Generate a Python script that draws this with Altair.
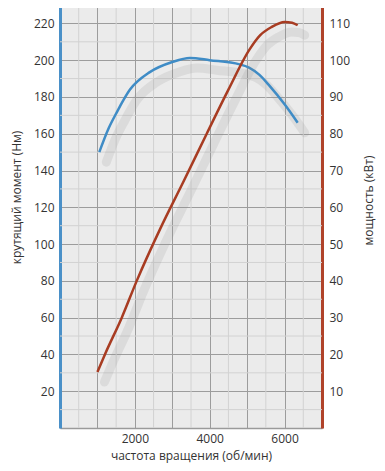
import altair as alt
import pandas as pd

# torque curve (Nm) vs rpm
rpm_t = [1050, 1300, 1500, 1870, 2400, 3000, 3470, 4000, 4800, 5050, 5330, 5600, 6000, 6350]
torque = [150, 163, 171, 184, 193.5, 199, 201.2, 200, 197.7, 196, 192, 186, 176, 166]

# power curve (kW) vs rpm
rpm_p = [1000, 1200, 1650, 2050, 2670, 3300, 3920, 4500, 5070, 5350, 5650, 6000, 6200, 6350]
power = [15.2, 20, 30, 40, 54, 67, 80, 92, 103, 106.8, 109, 110.4, 110.2, 109.5]

torque_ticks = [20, 40, 60, 80, 100, 120, 140, 160, 180, 200, 220]
power_ticks = [10, 20, 30, 40, 50, 60, 70, 80, 90, 100, 110]
rpm_ticks = [1000, 2000, 3000, 4000, 5000, 6000]
minor_h = [10, 30, 50, 70, 90, 110, 130, 150, 170, 190, 210, 230]
minor_v = [500, 1500, 2500, 3500, 4500, 5500, 6500]

FONT = "Open Sans"
BLUE = "#3f8cc6"
RED = "#a83c22"

df_t = pd.DataFrame({"rpm": rpm_t, "torque": torque})
df_p = pd.DataFrame({"rpm": rpm_p, "power": power})
df_mh = pd.DataFrame({"torque": minor_h})
df_mv = pd.DataFrame({"rpm": minor_v})

xscale = alt.Scale(domain=[0, 7000], nice=False, zero=False)
yscale_t = alt.Scale(domain=[0, 230], nice=False)
yscale_p = alt.Scale(domain=[0, 115], nice=False)

x_axis = alt.Axis(
    values=rpm_ticks, labelExpr="datum.value % 2000 == 0 ? datum.label : ''",
    format="d", grid=True, gridColor="#9c9c9c", gridWidth=1, ticks=False,
    domainColor="#9a9a9a", domainWidth=1.5, labelPadding=5,
    title="частота вращения (об/мин)", titlePadding=6,
)
t_axis = alt.Axis(
    orient="left", values=torque_ticks, grid=True, gridColor="#9c9c9c",
    gridWidth=1, ticks=False, domainColor="#4a90c8", domainWidth=3,
    labelPadding=6, title="крутящий момент (Нм)", titleY=192, titleX=-37,
)
p_axis = alt.Axis(
    orient="right", values=power_ticks, grid=False, ticks=False,
    domainColor="#b0432a", domainWidth=3, labelPadding=7,
    title="мощность (кВт)", titleAngle=270, titleY=195, titleX=53,
)

x_enc = alt.X("rpm:Q", scale=xscale, axis=x_axis)
y_t = alt.Y("torque:Q", scale=yscale_t, axis=t_axis)
y_p = alt.Y("power:Q", scale=yscale_p, axis=p_axis)

minor_h_layer = alt.Chart(df_mh).mark_rule(color="#d2d2d2", strokeWidth=1).encode(y=y_t)
minor_v_layer = alt.Chart(df_mv).mark_rule(color="#d2d2d2", strokeWidth=1).encode(x=x_enc)

torque_shadow = alt.Chart(df_t).mark_line(
    color="#8a8a8a", strokeWidth=9, opacity=0.16, interpolate="monotone",
    xOffset=7, yOffset=10, strokeCap="round"
).encode(x=x_enc, y=y_t)

torque_line = alt.Chart(df_t).mark_line(
    color=BLUE, strokeWidth=2.5, interpolate="monotone"
).encode(x=x_enc, y=y_t)

power_shadow = alt.Chart(df_p).mark_line(
    color="#8a8a8a", strokeWidth=9, opacity=0.16, interpolate="monotone",
    xOffset=7, yOffset=10, strokeCap="round"
).encode(x=x_enc, y=y_p)

power_line = alt.Chart(df_p).mark_line(
    color=RED, strokeWidth=2.5, interpolate="monotone"
).encode(x=x_enc, y=y_p)

left = alt.layer(minor_h_layer, minor_v_layer, torque_shadow, torque_line)
right = alt.layer(power_shadow, power_line)

chart = alt.layer(left, right).resolve_scale(y="independent").properties(
    width=262, height=423,
    autosize=alt.AutoSizeParams(type="none"),
    padding={"left": 52, "top": -3, "right": 55, "bottom": 35},
).configure_view(
    fill="#ebebeb", stroke="#b5b5b5", strokeWidth=1
).configure_axis(
    labelFont=FONT, titleFont=FONT, labelFontSize=12, titleFontSize=12,
    labelColor="#333333", titleColor="#333333", titleFontWeight="normal",
)

chart.save("out.html", embed_options={"renderer": "svg", "actions": False})
